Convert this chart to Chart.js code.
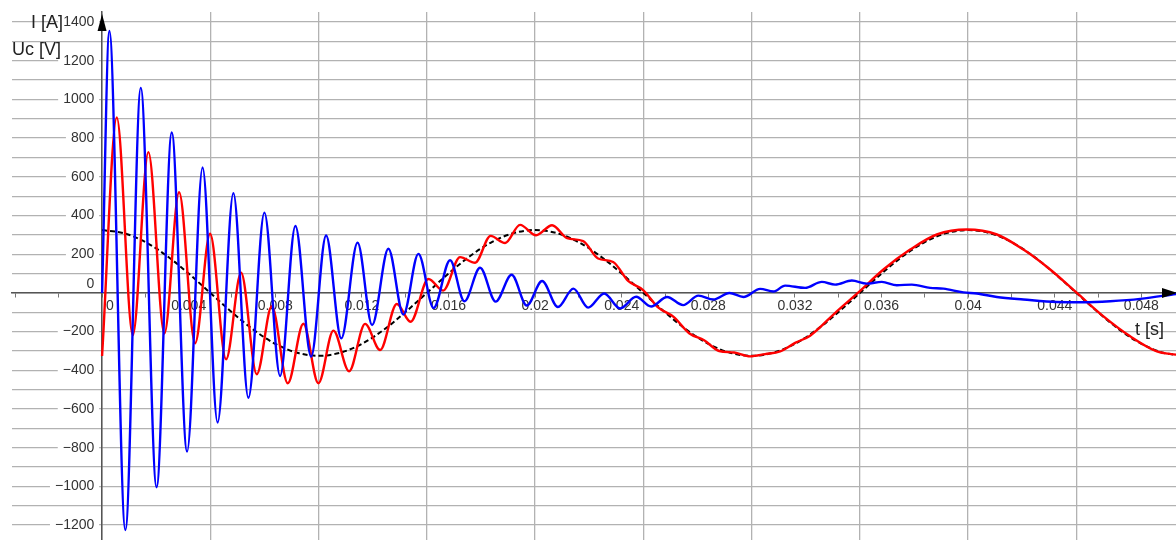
<!DOCTYPE html>
<html>
<head>
<meta charset="utf-8">
<title>I and Uc transient</title>
<script src="https://cdn.jsdelivr.net/npm/chart.js@4.4.1/dist/chart.umd.min.js"></script>
<style>
  html, body { margin: 0; padding: 0; background: #fff; }
  #wrap { position: relative; width: 1176px; height: 540px; overflow: hidden; }
  #chart { position: absolute; left: 0; top: 0; }
  .axis-title { position: absolute; font: 18px "Liberation Sans", Arial, sans-serif; color: #222; white-space: nowrap; line-height: 18px; }
</style>
</head>
<body>
<div id="wrap">
  <canvas id="chart" width="1176" height="540"></canvas>
  <div class="axis-title" style="left:31px; top:13px;">I [A]</div>
  <div class="axis-title" style="left:12px; top:40px;">Uc [V]</div>
  <div class="axis-title" style="left:1135px; top:320px;">t [s]</div>
</div>
<script>
// current I [A] at peaks / troughs
const tI = [0, 0.000337, 0.001076, 0.001788, 0.002517, 0.003219, 0.003926, 0.004642, 0.005335, 0.006065,
  0.006758, 0.007497, 0.008222, 0.008929, 0.009654, 0.010346, 0.011048, 0.011801, 0.012471, 0.013224,
  0.013917, 0.01461, 0.015312, 0.016074, 0.016734, 0.01746, 0.018176, 0.018915, 0.019617, 0.020323,
  0.021053, 0.021769, 0.022448, 0.023187, 0.023926, 0.024665, 0.025358, 0.026097, 0.026836, 0.027543,
  0.028236, 0.028975, 0.029621, 0.030393, 0.031007, 0.031547, 0.032471, 0.033242, 0.033857, 0.034628,
  0.035321, 0.036014, 0.036707, 0.0374, 0.038245, 0.03886, 0.039783, 0.040402, 0.041326, 0.042554,
  0.044097, 0.045326, 0.046559, 0.047945, 0.049607];
const iA = [0, 1354, -1225, 1060, -1004, 829, -820, 648, -670, 516,
  -542, 415, -429, 346, -329, 297, -235, 260, -166, 228,
  -112, 202, -78, 169, -43, 130, -45, 94, -65, 62,
  -73, 22, -76, -3, -80, -20, -70, -21, -63, -14,
  -34, 0, -21, 21, 7, 38, 26, 57, 43, 64,
  48, 57, 40, 43, 26, 22, 3, -3, -21, -34,
  -47, -48, -43, -31, -5];

// capacitor voltage Uc [V]
const tU = [0, 0.000679, 0.001418, 0.002139, 0.002878, 0.003557, 0.004296, 0.004988, 0.005727, 0.00642,
  0.007145, 0.007838, 0.008577, 0.009298, 0.009991, 0.010684, 0.011409, 0.012148, 0.012841, 0.013612,
  0.014249, 0.015072, 0.015751, 0.016536, 0.017229, 0.017945, 0.018614, 0.019307, 0.020046, 0.020785,
  0.021478, 0.022217, 0.02291, 0.023603, 0.024296, 0.024988, 0.025681, 0.026397, 0.027113, 0.027806,
  0.028499, 0.029192, 0.029931, 0.030624, 0.031316, 0.032009, 0.032702, 0.033935, 0.034933, 0.036088,
  0.037321, 0.038554, 0.03994, 0.041326, 0.042554, 0.043788, 0.045021, 0.04625, 0.047483, 0.048716,
  0.049607];
const uC = [-326, 907, -219, 728, -210, 520, -260, 306, -343, 104,
  -420, -69, -467, -159, -467, -195, -405, -160, -295, -57,
  -149, 72, 12, 185, 156, 295, 258, 352, 298, 350,
  283, 268, 178, 160, 62, 15, -75, -124, -208, -245,
  -300, -308, -328, -316, -302, -258, -221, -95, 3, 121,
  224, 302, 328, 302, 224, 121, 0, -121, -224, -302,
  -319];

// steady-state voltage (dashed black)
const tSteady = [0, 0.001, 0.002, 0.003, 0.004, 0.005, 0.006, 0.007, 0.008, 0.009,
  0.01, 0.011, 0.012, 0.013, 0.014, 0.015, 0.016, 0.017, 0.018, 0.019,
  0.02, 0.021, 0.022, 0.023, 0.024, 0.025, 0.026, 0.027, 0.028, 0.029,
  0.03, 0.031, 0.032, 0.033, 0.034, 0.035, 0.036, 0.037, 0.038, 0.039,
  0.04, 0.041, 0.042, 0.043, 0.044, 0.045, 0.046, 0.047, 0.048, 0.049, 0.05];
const uSteady = [325, 309, 263, 191, 100, 0, -100, -191, -263, -309,
  -325, -309, -263, -191, -100, 0, 100, 191, 263, 309,
  325, 309, 263, 191, 100, 0, -100, -191, -263, -309,
  -325, -309, -263, -191, -100, 0, 100, 191, 263, 309,
  325, 309, 263, 191, 100, 0, -100, -191, -263, -309, -325];

// axis ranges and tick spacing
const tMin = -0.00416, tMax = 0.0496;
const vMin = -1277, vMax = 1452;
const tTickStep = 0.002, tLabelStep = 0.004, tGridStep = 0.005;
const vTickStep = 100, vLabelStep = 200;

const GRID = '#b2b2b2';
const AXIS = '#555555';
const TEXT = '#333333';
const CLEAR = 'rgba(0,0,0,0)';

Chart.defaults.font.family = '"Liberation Sans", Arial, sans-serif';
Chart.defaults.font.size = 14;
Chart.defaults.color = TEXT;

function toPoints(xs, ys) {
  return xs.map((x, i) => ({x: x, y: ys[i]}));
}

function fmtV(v) {
  // trailing spaces keep the label off the axis line
  if (v === 0) return ['0  ', ''];   // two lines lift the zero above the t axis
  return (v < 0 ? '\u2212' : '') + Math.abs(v) + '  ';
}

// white box only behind real, non-zero labels
function labelBackdrop(c) {
  if (!c.tick || !c.tick.label || Array.isArray(c.tick.label)) return CLEAR;
  if (String(c.tick.label).trim() === '' || Math.abs(c.tick.value) < 1e-9) return CLEAR;
  return '#ffffff';
}

// axes sit inside the plot, so they must not eat layout space
function noSpace(s) {
  if (s.isHorizontal()) s.height = 0; else s.width = 0;
  s.paddingTop = 0;
  s.paddingBottom = 0;
  s.paddingLeft = 0;
  s.paddingRight = 0;
}

// arrows at the end of both axes
const axisArrows = {
  id: 'axisArrows',
  afterDraw(chart) {
    const {ctx, chartArea, scales} = chart;
    const x0 = scales.x.getPixelForValue(0);
    const y0 = scales.y.getPixelForValue(0);
    ctx.save();
    ctx.fillStyle = '#000';
    ctx.beginPath();
    ctx.moveTo(x0, chartArea.top + 2);
    ctx.lineTo(x0 - 4.5, chartArea.top + 19);
    ctx.lineTo(x0 + 4.5, chartArea.top + 19);
    ctx.closePath();
    ctx.fill();
    ctx.beginPath();
    ctx.moveTo(chartArea.right + 1, y0);
    ctx.lineTo(chartArea.right - 14, y0 - 5);
    ctx.lineTo(chartArea.right - 14, y0 + 5);
    ctx.closePath();
    ctx.fill();
    ctx.restore();
  }
};

new Chart(document.getElementById('chart'), {
  type: 'line',
  data: {
    datasets: [
      {label: 'I [A]', data: toPoints(tI, iA), borderColor: '#0000ff', borderWidth: 2.4, xAxisID: 'x', yAxisID: 'y'},
      {label: 'Uc [V]', data: toPoints(tU, uC), borderColor: '#ff0000', borderWidth: 2.4, xAxisID: 'x', yAxisID: 'y'},
      {label: 'Uc steady', data: toPoints(tSteady, uSteady), borderColor: '#000000', borderWidth: 2,
        borderDash: [5, 3], borderCapStyle: 'butt', xAxisID: 'x', yAxisID: 'y'}
    ]
  },
  options: {
    responsive: false,
    animation: false,
    layout: {padding: {left: 12, top: 12, right: 0, bottom: 0}},
    elements: {
      point: {radius: 0, hoverRadius: 0},
      line: {cubicInterpolationMode: 'monotone', fill: false}
    },
    plugins: {legend: {display: false}, tooltip: {enabled: false}},
    scales: {
      xg: {
        type: 'linear', min: tMin, max: tMax, position: {y: 0}, afterFit: noSpace,
        ticks: {display: false, stepSize: tGridStep, includeBounds: false},
        grid: {color: GRID, lineWidth: 1.3, drawTicks: false},
        border: {display: false}
      },
      y: {
        type: 'linear', min: vMin, max: vMax, position: {x: 0}, afterFit: noSpace,
        ticks: {
          stepSize: vTickStep, includeBounds: false, autoSkip: false,
          callback: v => (v % vLabelStep === 0 ? fmtV(v) : ''),
          showLabelBackdrop: true,
          backdropColor: labelBackdrop,
          backdropPadding: {left: 5, right: -3, top: 1, bottom: 1}
        },
        grid: {color: GRID, lineWidth: 1.3, drawTicks: false},
        border: {color: AXIS, width: 1.5}
      },
      x: {
        type: 'linear', min: tMin, max: tMax, position: {y: 0}, afterFit: noSpace,
        ticks: {
          stepSize: tTickStep, includeBounds: false, autoSkip: false, maxRotation: 0, padding: 1,
          callback: v => {
            if (v < -1e-9) return '';
            const k = v / tLabelStep;
            if (Math.abs(k - Math.round(k)) > 1e-6) return '';
            if (Math.abs(v) < 1e-9) return '    0';
            return String(parseFloat(v.toFixed(3)));
          },
          showLabelBackdrop: true,
          backdropColor: labelBackdrop,
          backdropPadding: {left: 2, right: 2, top: -1, bottom: -4}
        },
        grid: {drawOnChartArea: false, drawTicks: true, tickLength: 4, color: '#777', lineWidth: 1},
        border: {color: AXIS, width: 1.5}
      }
    }
  },
  plugins: [axisArrows]
});
</script>
</body>
</html>
